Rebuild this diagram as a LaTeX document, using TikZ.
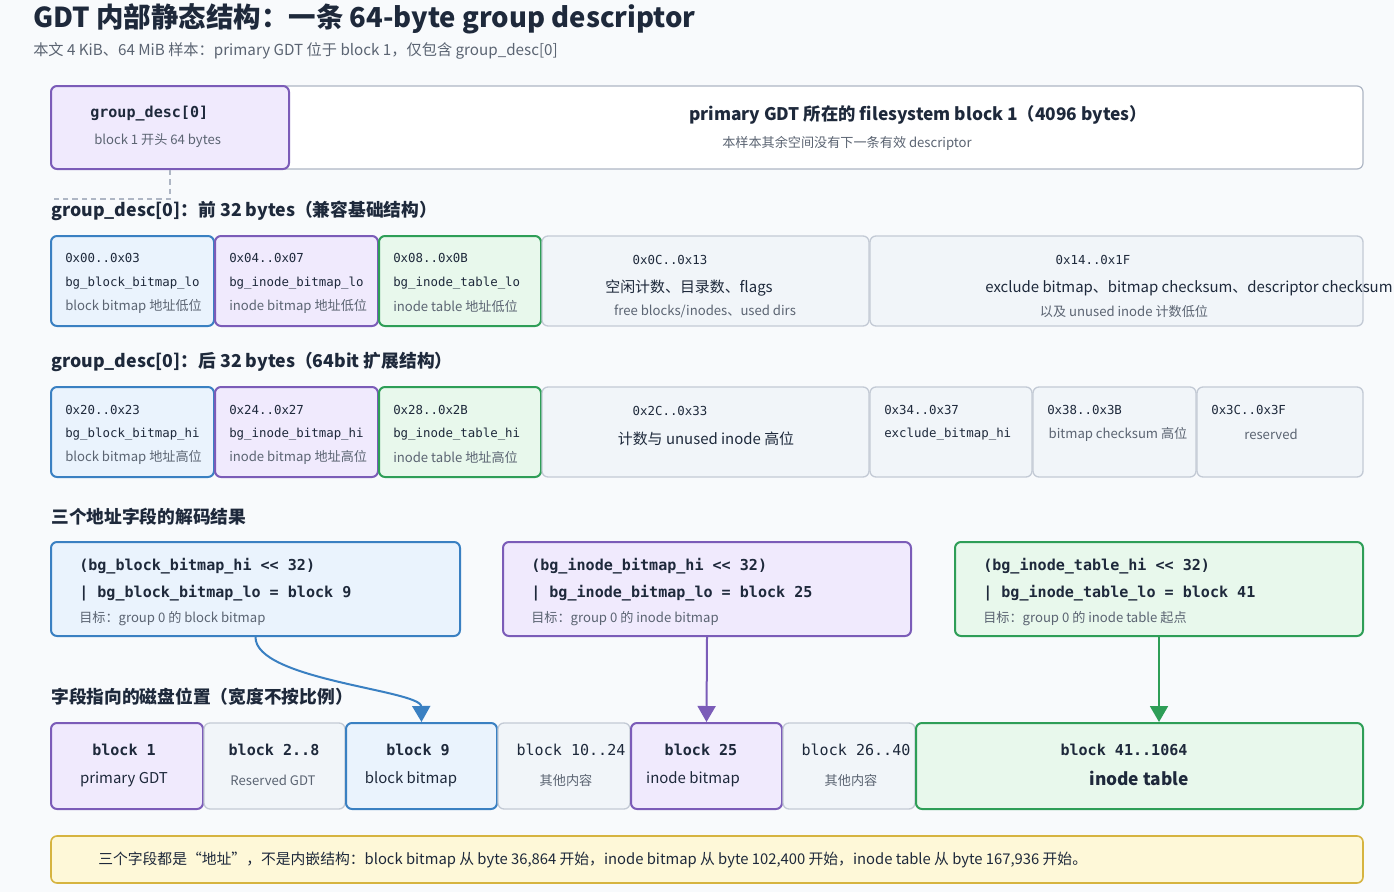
\documentclass[tikz,border=0pt]{standalone}
\usepackage{fontspec}
\setmainfont{Noto Sans CJK SC}
\setmonofont{DejaVu Sans Mono}
\usetikzlibrary{positioning, fit, arrows.meta}

\definecolor{pagebg}{HTML}{F8FAFC}
\definecolor{ink}{HTML}{1E293B}
\definecolor{muted}{HTML}{5B6472}
\definecolor{frame}{HTML}{AEB6C4}
\definecolor{bluefill}{HTML}{EAF3FD}
\definecolor{blueline}{HTML}{3A80C2}
\definecolor{purplefill}{HTML}{F0EAFD}
\definecolor{purpleline}{HTML}{7B5CB8}
\definecolor{greenfill}{HTML}{E8F8EC}
\definecolor{greenline}{HTML}{2E9E57}
\definecolor{grayfill}{HTML}{F1F5F9}
\definecolor{grayline}{HTML}{C3CAD5}
\definecolor{notefill}{HTML}{FEF8D8}
\definecolor{noteline}{HTML}{D6B440}

\begin{document}
\begin{tikzpicture}[x=0.75pt, y=-0.75pt,
  box/.style={draw, rounded corners=4.5pt, inner sep=0pt},
  bluebox/.style={box, fill=bluefill, draw=blueline, line width=1.5pt},
  purplebox/.style={box, fill=purplefill, draw=purpleline, line width=1.5pt},
  greenbox/.style={box, fill=greenfill, draw=greenline, line width=1.5pt},
  graybox/.style={box, fill=grayfill, draw=grayline, line width=1pt},
  txt/.style={inner sep=0pt, text=ink},
  code/.style={txt, font=\ttfamily\fontsize{9.3}{11}\selectfont},
  bigcode/.style={txt, font=\ttfamily\bfseries\fontsize{11.3}{13}\selectfont},
  plain/.style={txt, font=\fontsize{11.2}{13}\selectfont},
  note/.style={txt, text=muted, font=\fontsize{9.85}{12}\selectfont},
  head/.style={txt, anchor=west, font=\bfseries\fontsize{13.3}{16}\selectfont},
  link/.style={line width=1.5pt, -{Triangle[width=13.5pt,length=12pt]}},
  guide/.style={draw=frame, line width=0.9pt, dash pattern=on 4pt off 3pt}]

\fill[pagebg] (0,0) rectangle (1394,892);
\useasboundingbox (0,0) rectangle (1394,892);

% title
\node[txt, anchor=west, font=\bfseries\fontsize{20.6}{24}\selectfont] (ttl) at (33,19) {GDT 内部静态结构：一条 64-byte group descriptor};
\node[txt, anchor=west, text=muted, font=\fontsize{11.4}{13}\selectfont] (subttl) at (33,51) {本文 4 KiB、64 MiB 样本：primary GDT 位于 block 1，仅包含 group\_desc[0]};

% filesystem block 1
\node[fit={(51,86) (1363,169)}, box, fill=white, draw=frame, line width=0.9pt] (fsblk) {};
\node[fit={(51,86) (289,169)}, purplebox] (gd) {};
\node[bigcode, anchor=west] (gdname) at (90,114) {group\_desc[0]};
\node[note, anchor=west] (gdnote) at (94,141) {block 1 开头 64 bytes};
\node[txt, font=\bfseries\fontsize{13}{15}\selectfont] (fsname) at (918,115) {primary GDT 所在的 filesystem block 1（4096 bytes）};
\node[note] (fsnote) at (847,143) {本样本其余空间没有下一条有效 descriptor};
\coordinate (gdbend) at (170,199);
\coordinate (gdend) at (51,199);
\draw[guide] (gd.south) -- (gdbend) -- (gdend);

% first 32 bytes
\node[head] (head1) at (51,211) {group\_desc[0]：前 32 bytes（兼容基础结构）};
\node[fit={(51,236) (214,326)}, bluebox] (lo1) {};
\node[fit={(215,236) (378,326)}, purplebox] (lo2) {};
\node[fit={(379,236) (541,326)}, greenbox] (lo3) {};
\node[fit={(542,236) (869,326)}, graybox] (lo4) {};
\node[fit={(870,236) (1363,326)}, graybox] (lo5) {};
\node[code, anchor=west] (lo1off) at (65,258) {0x00..0x03};
\node[code, anchor=west] (lo1name) at (65,283) {bg\_block\_bitmap\_lo};
\node[note, anchor=west] (lo1note) at (65,306) {block bitmap 地址低位};
\node[code, anchor=west] (lo2off) at (229,258) {0x04..0x07};
\node[code, anchor=west] (lo2name) at (229,283) {bg\_inode\_bitmap\_lo};
\node[note, anchor=west] (lo2note) at (229,306) {inode bitmap 地址低位};
\node[code, anchor=west] (lo3off) at (393,258) {0x08..0x0B};
\node[code, anchor=west] (lo3name) at (393,283) {bg\_inode\_table\_lo};
\node[note, anchor=west] (lo3note) at (393,306) {inode table 地址低位};
\node[code] (lo4off) at (670,260) {0x0C..0x13};
\node[plain] (lo4name) at (689,288) {空闲计数、目录数、flags};
\node[note] (lo4note) at (705,311) {free blocks/inodes、used dirs};
\node[code] (lo5off) at (1093,260) {0x14..0x1F};
\node[plain] (lo5name) at (1189,288) {exclude bitmap、bitmap checksum、descriptor checksum};
\node[note] (lo5note) at (1124,311) {以及 unused inode 计数低位};

% last 32 bytes
\node[head] (head2) at (51,362) {group\_desc[0]：后 32 bytes（64bit 扩展结构）};
\node[fit={(51,387) (214,477)}, bluebox] (hi1) {};
\node[fit={(215,387) (378,477)}, purplebox] (hi2) {};
\node[fit={(379,387) (541,477)}, greenbox] (hi3) {};
\node[fit={(542,387) (869,477)}, graybox] (hi4) {};
\node[fit={(870,387) (1032,477)}, graybox] (hi5) {};
\node[fit={(1033,387) (1196,477)}, graybox] (hi6) {};
\node[fit={(1197,387) (1363,477)}, graybox] (hi7) {};
\node[code, anchor=west] (hi1off) at (65,410) {0x20..0x23};
\node[code, anchor=west] (hi1name) at (65,434) {bg\_block\_bitmap\_hi};
\node[note, anchor=west] (hi1note) at (65,457) {block bitmap 地址高位};
\node[code, anchor=west] (hi2off) at (229,410) {0x24..0x27};
\node[code, anchor=west] (hi2name) at (229,434) {bg\_inode\_bitmap\_hi};
\node[note, anchor=west] (hi2note) at (229,457) {inode bitmap 地址高位};
\node[code, anchor=west] (hi3off) at (393,410) {0x28..0x2B};
\node[code, anchor=west] (hi3name) at (393,434) {bg\_inode\_table\_hi};
\node[note, anchor=west] (hi3note) at (393,457) {inode table 地址高位};
\node[code] (hi4off) at (670,411) {0x2C..0x33};
\node[plain] (hi4name) at (706,439) {计数与 unused inode 高位};
\node[code, anchor=west] (hi5off) at (884,410) {0x34..0x37};
\node[code, anchor=west] (hi5name) at (884,434) {exclude\_bitmap\_hi};
\node[code, anchor=west] (hi6off) at (1047,410) {0x38..0x3B};
\node[note] (hi6note) at (1118,434) {bitmap checksum 高位};
\node[code, anchor=west] (hi7off) at (1211,410) {0x3C..0x3F};
\node[note] (hi7note) at (1271,434) {reserved};

% decoded addresses
\node[head] (head3) at (51,517) {三个地址字段的解码结果};
\node[fit={(51,542) (460,636)}, bluebox] (dec1) {};
\node[fit={(503,542) (911,636)}, purplebox] (dec2) {};
\node[fit={(955,542) (1363,636)}, greenbox] (dec3) {};
\node[bigcode, anchor=west] (dec1a) at (79,566) {(bg\_block\_bitmap\_hi << 32)};
\node[bigcode, anchor=west] (dec1b) at (79,593) {| bg\_block\_bitmap\_lo = block 9};
\node[note, anchor=west] (dec1c) at (79,619) {目标：group 0 的 block bitmap};
\node[bigcode, anchor=west] (dec2a) at (531,566) {(bg\_inode\_bitmap\_hi << 32)};
\node[bigcode, anchor=west] (dec2b) at (531,593) {| bg\_inode\_bitmap\_lo = block 25};
\node[note, anchor=west] (dec2c) at (531,619) {目标：group 0 的 inode bitmap};
\node[bigcode, anchor=west] (dec3a) at (983,566) {(bg\_inode\_table\_hi << 32)};
\node[bigcode, anchor=west] (dec3b) at (983,593) {| bg\_inode\_table\_lo = block 41};
\node[note, anchor=west] (dec3c) at (983,619) {目标：group 0 的 inode table 起点};

% disk layout
\node[head] (head4) at (51,697) {字段指向的磁盘位置（宽度不按比例）};
\node[fit={(51,723) (203,809)}, purplebox] (b1) {};
\node[fit={(204,723) (345,809)}, graybox] (b2) {};
\node[fit={(346,723) (497,809)}, bluebox] (b9) {};
\node[fit={(498,723) (630,809)}, graybox] (b10) {};
\node[fit={(631,723) (782,809)}, purplebox] (b25) {};
\node[fit={(783,723) (915,809)}, graybox] (b26) {};
\node[fit={(916,723) (1363,809)}, greenbox] (b41) {};
\node[bigcode] (b1a) at (124,750) {block 1};
\node[plain] (b1b) at (124,779) {primary GDT};
\node[bigcode] (b2a) at (274,750) {block 2..8};
\node[note] (b2b) at (273,780) {Reserved GDT};
\node[bigcode] (b9a) at (418,750) {block 9};
\node[plain] (b9b) at (411,779) {block bitmap};
\node[code, font=\ttfamily\fontsize{11.3}{13}\selectfont] (b10a) at (571,750) {block 10..24};
\node[note] (b10b) at (566,780) {其他内容};
\node[bigcode] (b25a) at (701,750) {block 25};
\node[plain] (b25b) at (693,779) {inode bitmap};
\node[code, font=\ttfamily\fontsize{11.3}{13}\selectfont] (b26a) at (856,750) {block 26..40};
\node[note] (b26b) at (851,780) {其他内容};
\node[bigcode] (b41a) at (1124,750) {block 41..1064};
\node[txt, font=\bfseries\fontsize{13}{15}\selectfont] (b41b) at (1139,778) {inode table};

\draw[link, blueline] (dec1.south) .. controls (255,680) and (421,690) .. (b9.north);
\draw[link, purpleline] (dec2.south) -- (b25.north);
\draw[link, greenline] (dec3.south) -- (dec3.south |- b41.north);

% footer
\node[fit={(51,836) (1363,883)}, box, fill=notefill, draw=noteline, line width=1.2pt] (foot) {};
\node[plain, anchor=west, font=\fontsize{11.1}{13}\selectfont] (foottxt) at (98,860) {三个字段都是“地址”，不是内嵌结构：block bitmap 从 byte 36,864 开始，inode bitmap 从 byte 102,400 开始，inode table 从 byte 167,936 开始。};

\end{tikzpicture}
\end{document}
